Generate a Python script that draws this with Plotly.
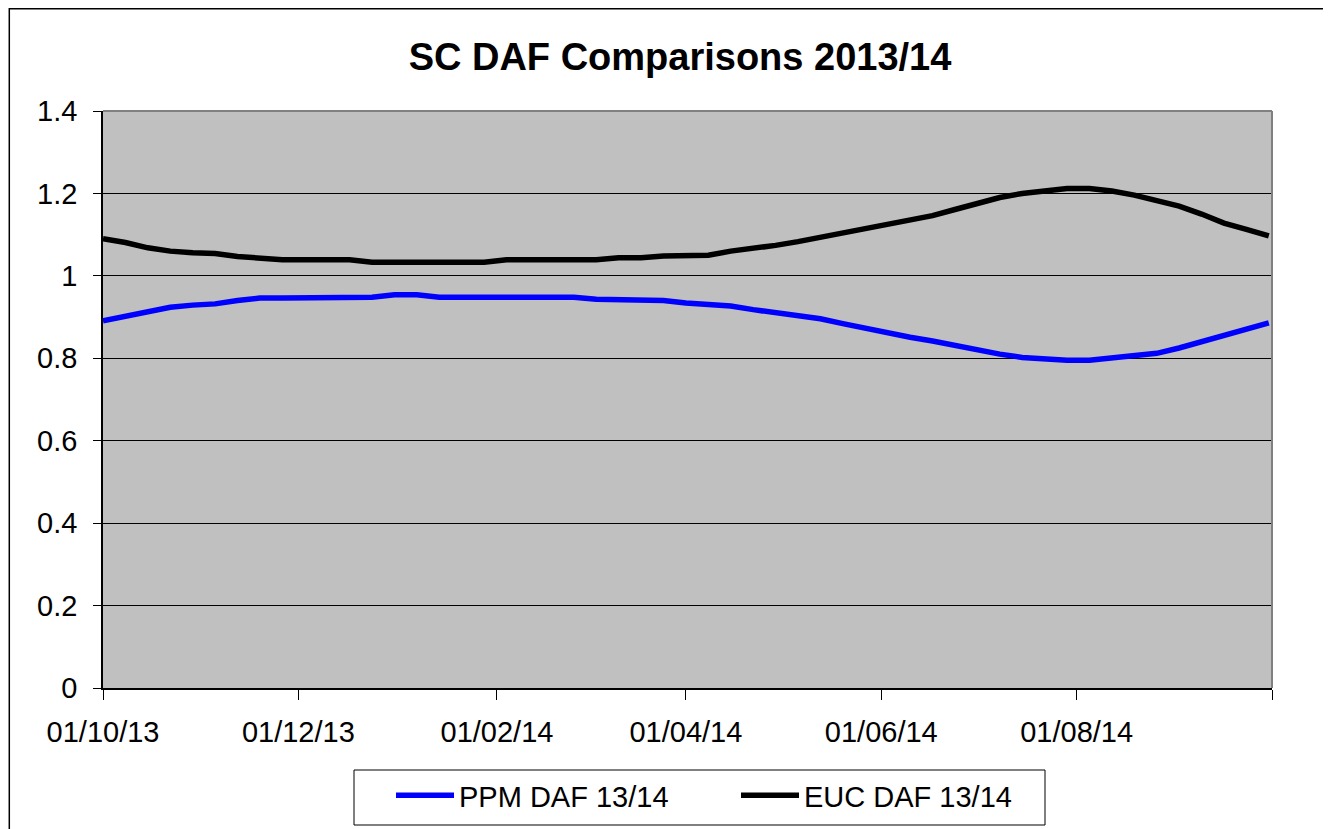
import plotly.graph_objects as go
import pandas as pd

# Weekly dates from 01/10/13 to 30/09/14
dates = list(pd.date_range("2013-10-01", periods=53, freq="7D").strftime("%Y-%m-%d"))

euc_daf = [1.090, 1.081, 1.068, 1.060, 1.056, 1.054, 1.047, 1.043, 1.039, 1.039,
           1.039, 1.039, 1.033, 1.033, 1.033, 1.033, 1.033, 1.033, 1.039, 1.039,
           1.039, 1.039, 1.039, 1.044, 1.044, 1.048, 1.048, 1.050, 1.060, 1.066,
           1.074, 1.083, 1.093, 1.104, 1.115, 1.126, 1.136, 1.146, 1.161, 1.176,
           1.190, 1.200, 1.207, 1.212, 1.212, 1.206, 1.196, 1.183, 1.169, 1.150,
           1.128, 1.113, 1.097]

ppm_daf = [0.891, 0.903, 0.915, 0.924, 0.929, 0.932, 0.940, 0.946, 0.946, 0.946,
           0.948, 0.948, 0.948, 0.954, 0.954, 0.948, 0.948, 0.948, 0.948, 0.948,
           0.948, 0.948, 0.943, 0.943, 0.940, 0.940, 0.934, 0.931, 0.927, 0.918,
           0.911, 0.903, 0.896, 0.884, 0.872, 0.862, 0.851, 0.842, 0.831, 0.820,
           0.810, 0.802, 0.798, 0.795, 0.795, 0.800, 0.805, 0.812, 0.825, 0.840,
           0.858, 0.872, 0.886]

tick_vals = ["2013-10-01", "2013-12-01", "2014-02-01", "2014-04-01",
             "2014-06-01", "2014-08-01", "2014-10-01"]
tick_text = ["01/10/13", "01/12/13", "01/02/14", "01/04/14",
             "01/06/14", "01/08/14", ""]

FONT = "Liberation Sans, Arial, sans-serif"

fig = go.Figure()
fig.add_trace(go.Scatter(x=dates, y=ppm_daf, name="PPM DAF 13/14", mode="lines",
                         line=dict(color="#0000FF", width=5.5)))
fig.add_trace(go.Scatter(x=dates, y=euc_daf, name="EUC DAF 13/14", mode="lines",
                         line=dict(color="#000000", width=5.5)))

# page body adds an 8px offset; layout below is in figure pixels
W, H = 1323, 821
L, R, T, B = 95, 1264, 103, 680
pw, ph = R - L, B - T

fig.update_layout(
    width=W, height=H,
    margin=dict(l=L, r=W - R, t=T, b=H - B, autoexpand=False),
    paper_bgcolor="white",
    plot_bgcolor="#C0C0C0",
    font=dict(family=FONT, size=29, color="black"),
    title=dict(text="<b>SC DAF Comparisons 2013/14</b>", x=672 / W, xanchor="center",
               y=(H - 49) / H, yanchor="middle",
               font=dict(family=FONT, size=38, color="black")),
    showlegend=True,
    legend=dict(orientation="h", x=(383 - L) / pw, xanchor="left",
                y=(B - 762) / ph, yanchor="top",
                borderwidth=0, bgcolor="rgba(0,0,0,0)",
                font=dict(family=FONT, size=29, color="black"),
                itemwidth=58, entrywidth=272, traceorder="normal"),
    xaxis=dict(type="date", range=["2013-10-01", "2014-10-01"],
               tickvals=tick_vals, ticktext=tick_text, tickangle=0, automargin=False,
               ticks="outside", ticklen=10, tickcolor="black", tickwidth=1,
               showline=True, linecolor="black", linewidth=1.5,
               showgrid=False, zeroline=False, ticklabelstandoff=7,
               tickfont=dict(family=FONT, size=29, color="black")),
    yaxis=dict(range=[0, 1.4], dtick=0.2, tick0=0, automargin=False,
               ticks="outside", ticklen=8, tickcolor="black", tickwidth=1,
               showline=True, linecolor="black", linewidth=1.5,
               showgrid=True, gridcolor="black", gridwidth=1,
               zeroline=False, ticklabelstandoff=10,
               tickfont=dict(family=FONT, size=29, color="black")),
    shapes=[
        # plot area top/right border
        dict(type="line", xref="paper", yref="paper", x0=0, x1=1, y0=1, y1=1,
             line=dict(color="#808080", width=2)),
        dict(type="line", xref="paper", yref="paper", x0=1, x1=1, y0=0, y1=1,
             line=dict(color="#808080", width=2)),
        # outer chart frame
        dict(type="rect", xref="paper", yref="paper",
             x0=(1.3 - L) / pw, x1=1.2, y0=-0.5, y1=1 + (T - 0.75) / ph,
             line=dict(color="black", width=1.5), layer="below"),
        # legend box
        dict(type="rect", xref="paper", yref="paper",
             x0=(346 - L) / pw, x1=(1037 - L) / pw,
             y0=(B - 817) / ph, y1=(B - 762) / ph,
             line=dict(color="black", width=1), layer="below"),
    ],
)

fig.write_html("out.html")
